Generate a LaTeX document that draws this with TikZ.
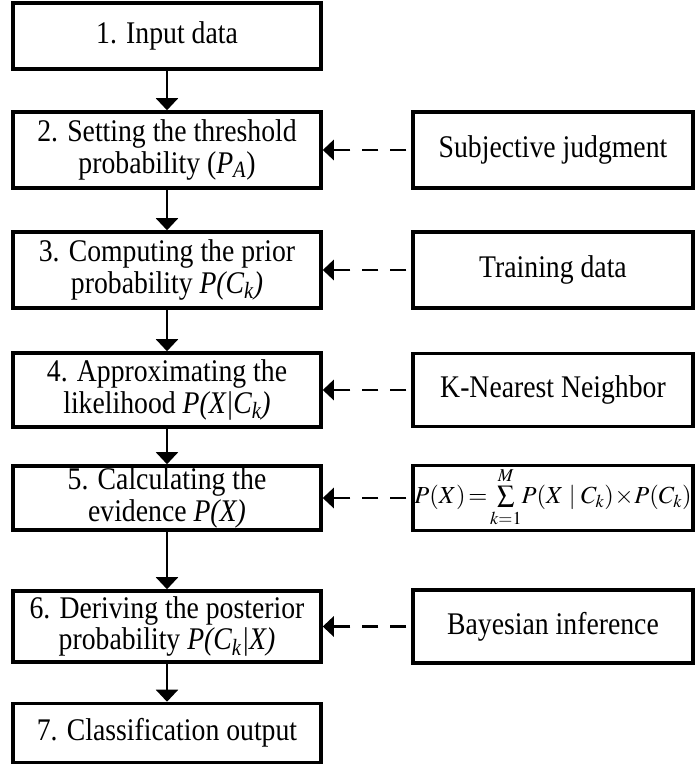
\documentclass[tikz,border=0pt]{standalone}
\usepackage{mathptmx}
\usepackage{fontspec}
\setmainfont{Liberation Serif}[FakeStretch=0.88]
\usetikzlibrary{arrows.meta}

\tikzset{
    % Box styles - plain sharp rectangles
    stepbox/.style={
        rectangle,
        draw=black,
        line width=3.5pt,
        minimum width=308pt,
        inner sep=2pt,
        align=center,
        font=\fontsize{31.5}{31.5}\selectfont
    },
    sourcebox/.style={
        rectangle,
        draw=black,
        line width=3.5pt,
        minimum width=280pt,
        inner sep=2pt,
        align=center,
        font=\fontsize{31.5}{31.5}\selectfont
    },
    % Arrow styles
    arrow/.style={
        -{Triangle[width=22pt,length=12pt]},
        line width=2pt,
        draw=black
    },
    dashedarrow/.style={
        -{Triangle[width=20pt,length=11pt]},
        line width=2.5pt,
        draw=black,
        dash pattern=on 16pt off 12pt,
        shorten <=5pt
    }
}

\begin{document}
\begin{tikzpicture}[x=1pt, y=1pt]
    \useasboundingbox (0,0) rectangle (695,764);

    % main steps
    \node[stepbox, minimum height=66pt] (s1) at (167,728) {1. Input data};
    \node[stepbox, minimum height=76pt] (s2) at (167,614) {2. Setting the threshold\\probability (\textit{P}\textsubscript{\textit{A}})};
    \node[stepbox, minimum height=76pt] (s3) at (167,494) {3. Computing the prior\\probability \textit{P(C\textsubscript{k})}};
    \node[stepbox, minimum height=74pt] (s4) at (167,374) {4. Approximating the\\likelihood \textit{P(X|C\textsubscript{k})}};
    \node[stepbox, minimum height=64pt] (s5) at (167,266) {5. Calculating the\\evidence \textit{P(X)}};
    \node[stepbox, minimum height=71pt] (s6) at (167,137.5) {6. Deriving the posterior\\probability \textit{P(C\textsubscript{k}|X)}};
    \node[stepbox, minimum height=59pt] (s7) at (167,31) {7. Classification output};

    % side inputs
    \node[sourcebox, minimum height=65pt, inner sep=0pt] (r5) at (553,266) {};
    \node[sourcebox, minimum height=76pt] (r2) at (553,614) {Subjective judgment};
    \node[sourcebox, minimum height=76pt] (r3) at (553,494) {Training data};
    \node[sourcebox, minimum height=73pt] (r4) at (553,374) {K-Nearest Neighbor};
    \node[sourcebox, minimum height=73pt] (r6) at (553,137.5) {Bayesian inference};
    \node[font=\fontsize{24.5}{28}\selectfont, inner sep=0pt] (f5) at ([yshift=1pt]r5.center)
        {$P(X)\!=\!\sum\limits_{k=1}^{M}\!P(X\mid C_k)\!\times\! P(C_k)$};

    \draw[arrow] (s1) -- (s2);
    \draw[arrow] (s2) -- (s3);
    \draw[arrow] (s3) -- (s4);
    \draw[arrow] (s4) -- (s5);
    \draw[arrow] (s5) -- (s6);
    \draw[arrow] (s6) -- (s7);

    \draw[dashedarrow] (r2) -- (s2);
    \draw[dashedarrow] (r3) -- (s3);
    \draw[dashedarrow] (r4) -- (s4);
    \draw[dashedarrow] (r5) -- (s5);
    \draw[dashedarrow] (r6) -- (s6);
\end{tikzpicture}
\end{document}
